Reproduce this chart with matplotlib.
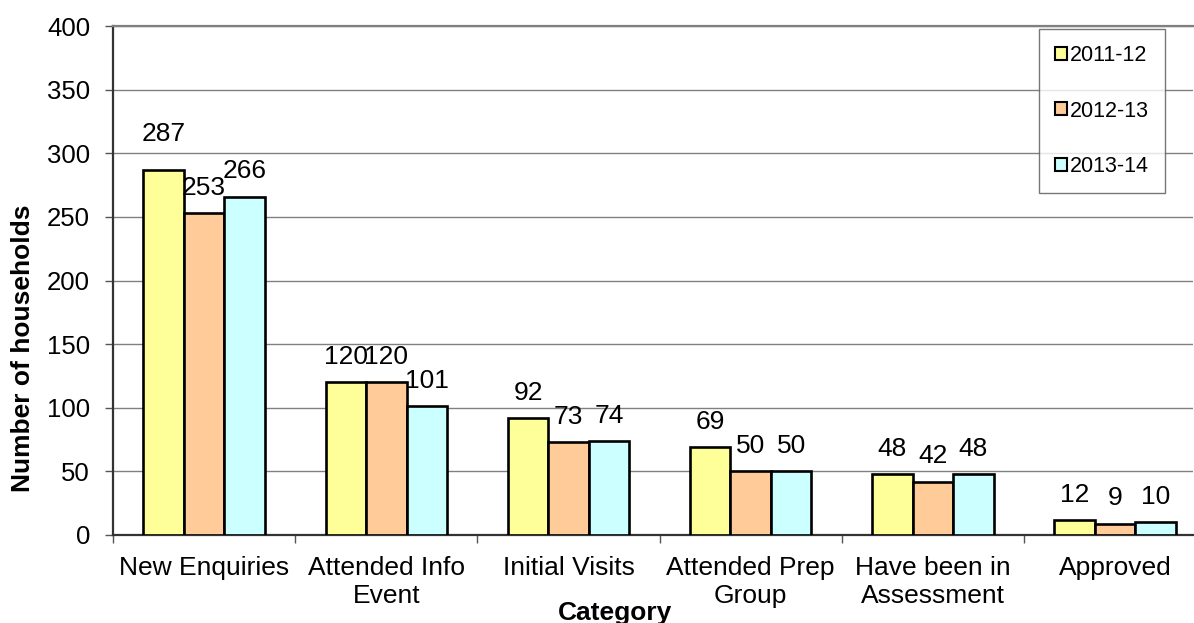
import numpy as np
import matplotlib
matplotlib.use("Agg")
import matplotlib.pyplot as plt
from matplotlib.patches import Patch

plt.rcParams["font.family"] = ["Liberation Sans", "DejaVu Sans"]

# data
categories = ["New Enquiries", "Attended Info\nEvent", "Initial Visits",
              "Attended Prep\nGroup", "Have been in\nAssessment", "Approved"]
years = ["2011-12", "2012-13", "2013-14"]
v_2011_12 = [287, 120, 92, 69, 48, 12]
v_2012_13 = [253, 120, 73, 50, 42, 9]
v_2013_14 = [266, 101, 74, 50, 48, 10]

colors = ["#FFFF99", "#FFCC99", "#CCFFFF"]
W, H = 1194, 623

fig = plt.figure(figsize=(W / 100, H / 100), dpi=100)
ax = fig.add_axes([113 / W, (H - 535) / H, (1193 - 113) / W, (535 - 26) / H])

x = np.arange(len(categories))
bw = 0.222
series = [v_2011_12, v_2012_13, v_2013_14]
# Excel nudged the first label up a bit so it clears the neighbour
extra_lift = {(0, 0): 8}

for i, (vals, col) in enumerate(zip(series, colors)):
    pos = x + (i - 1) * bw
    ax.bar(pos, vals, width=bw, color=col, edgecolor="black", linewidth=1.9, zorder=3)
    for j, (px, v) in enumerate(zip(pos, vals)):
        ax.annotate(str(v), (px, v), xytext=(0, 13 + extra_lift.get((i, j), 0)),
                    textcoords="offset points", ha="center", va="baseline",
                    fontsize=19, zorder=4)

ax.set_ylim(0, 400)
ax.set_xlim(-0.5, -0.5 + (1193 - 113) / 182.2)
ax.set_yticks(np.arange(0, 401, 50))
ax.set_xticks(x)
ax.set_xticklabels(categories, fontsize=19, linespacing=1.2)
ax.set_xticks(np.arange(len(categories)) - 0.5, minor=True)
ax.tick_params(axis="x", which="major", length=0, pad=15)
ax.tick_params(axis="x", which="minor", length=5.5, width=1, color="#555555")
ax.tick_params(axis="y", labelsize=18.5, length=5.5, width=1, color="#555555", pad=11)

ax.grid(axis="y", color="#808080", linewidth=1.0, zorder=0)
ax.set_axisbelow(True)
ax.spines["right"].set_visible(False)
ax.spines["top"].set_color("#808080")
ax.spines["top"].set_linewidth(1.6)
for s in ["left", "bottom"]:
    ax.spines[s].set_color("#333333")
    ax.spines[s].set_linewidth(1.6)

fig.text(23 / W, 1 - 348 / H, "Number of households", rotation=90,
         ha="center", va="center", fontsize=19, fontweight="bold")
fig.text(615 / W, 3 / H, "Category", ha="center", va="baseline",
         fontsize=19, fontweight="bold")

handles = [Patch(facecolor=c, edgecolor="black", linewidth=1.5) for c in colors]
leg = fig.legend(handles, years, loc="upper left",
                 bbox_to_anchor=(1039 / W, 1 - 29 / H), borderaxespad=0,
                 fontsize=15.5, frameon=True, fancybox=False,
                 handlelength=0.55, handleheight=0.55, handletextpad=0.15,
                 labelspacing=1.6, borderpad=0.75)
leg.get_frame().set_edgecolor("#555555")
leg.get_frame().set_linewidth(1.0)

fig.savefig("out.png", dpi=100)
